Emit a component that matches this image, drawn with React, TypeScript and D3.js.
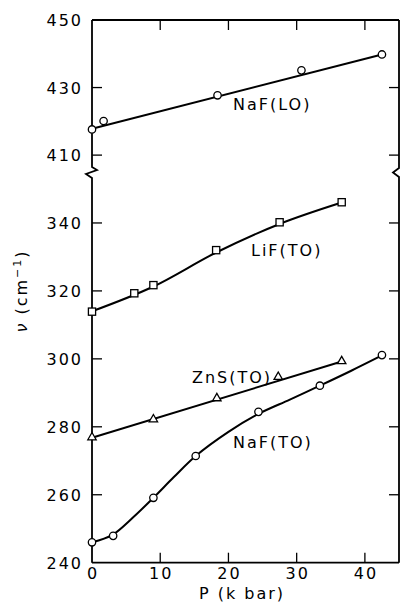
import React from "react";
import * as d3 from "d3";

// pressure (kbar) and frequency (cm^-1)
const nafLoP = [0, 1.7, 18.4, 30.7, 42.5];
const nafLoV = [417.6, 420.1, 427.7, 435.1, 439.8];
const nafLoFit = [[0, 417.8], [42.5, 439.8]];

const lifP = [0, 6.2, 9.0, 18.2, 27.5, 36.6];
const lifV = [313.9, 319.3, 321.7, 332.0, 340.2, 346.1];
const lifFit = [[0, 314], [9, 321.3], [18.2, 331.3], [27.5, 339.7], [36.6, 346]];

const znsP = [0, 9.0, 18.3, 27.3, 36.6];
const znsV = [277.0, 282.3, 288.5, 294.8, 299.4];
const znsFit = [[0, 276.8], [36.6, 299.2]];

const naftoP = [0, 3.1, 9.0, 15.2, 24.4, 33.4, 42.5];
const naftoV = [246.0, 247.9, 259.1, 271.4, 284.4, 292.1, 301.1];
const naftoFit = [
  [0, 246], [3, 248.2], [6, 253.3], [9, 259.1], [12, 265.2], [15.2, 271.4],
  [20, 278.5], [24.4, 283.8], [29, 288.0], [33.4, 292.1], [38, 296.5], [42.5, 301]
];

const xTicks = [0, 10, 20, 30, 40];
const upperTicks = [410, 430, 450];
const lowerTicks = [240, 260, 280, 300, 320, 340];

const W = 401;
const H = 603;
const left = 92;
const right = 399;
const top = 20;
const bottom = 562.7;
const breakY = 172;

const font = "'DejaVu Sans', sans-serif";

export default function App() {
  const x = d3.scaleLinear().domain([0, 45]).range([left, right]);
  const yUp = d3.scaleLinear().domain([405, 450]).range([breakY, top]);
  const yLo = d3.scaleLinear().domain([240, 355]).range([bottom, breakY]);
  const y = (v: number) => (v > 380 ? yUp(v) : yLo(v));

  const straight = d3.line<number[]>().x(d => x(d[0])).y(d => y(d[1]));
  const smooth = d3
    .line<number[]>()
    .x(d => x(d[0]))
    .y(d => y(d[1]))
    .curve(d3.curveCatmullRom.alpha(0.5));

  const tick = 10;
  const circle = (px: number[], vs: number[], key: string) =>
    px.map((p, i) => (
      <circle key={key + i} cx={x(p)} cy={y(vs[i])} r={3.7} fill="#fff" stroke="#000" strokeWidth={1.3} />
    ));

  const leftBreak = `M${left},${top} L${left},167 L${left + 5},170 L${left - 6},174 L${left},178 L${left},${bottom}`;
  const rightBreak = `M${right},${top} L${right},168 L${right - 6},172.5 L${right},177 L${right},${bottom}`;

  return (
    <svg width={W} height={H} style={{ position: "absolute", left: 0, top: 0, background: "#fff" }}>
      <g fill="none" stroke="#000" strokeWidth={1.8}>
        <path d={leftBreak} />
        <path d={rightBreak} />
        <line x1={left} x2={right} y1={top} y2={top} />
        <line x1={left} x2={right} y1={bottom} y2={bottom} />
      </g>

      <g stroke="#000" strokeWidth={1.3}>
        {xTicks.slice(1).map(t => (
          <g key={"xt" + t}>
            <line x1={x(t)} x2={x(t)} y1={bottom} y2={bottom - tick} />
            <line x1={x(t)} x2={x(t)} y1={top} y2={top + tick} />
          </g>
        ))}
        {upperTicks.slice(0, 2).map(t => (
          <g key={"ut" + t}>
            <line x1={left} x2={left + tick} y1={yUp(t)} y2={yUp(t)} />
            <line x1={right} x2={right - tick} y1={yUp(t)} y2={yUp(t)} />
          </g>
        ))}
        {lowerTicks.slice(1).map(t => (
          <g key={"lt" + t}>
            <line x1={left} x2={left + tick} y1={yLo(t)} y2={yLo(t)} />
            <line x1={right} x2={right - tick} y1={yLo(t)} y2={yLo(t)} />
          </g>
        ))}
      </g>

      <g fontFamily={font} fontSize={16} letterSpacing={2} fill="#000">
        {xTicks.map(t => (
          <text key={"xl" + t} x={x(t) + 1} y={579} textAnchor="middle">
            {t}
          </text>
        ))}
        {upperTicks.map(t => (
          <text key={"ul" + t} x={left - 9} y={yUp(t) + 6} textAnchor="end">
            {t}
          </text>
        ))}
        {lowerTicks.map(t => (
          <text key={"ll" + t} x={left - 9} y={yLo(t) + 6} textAnchor="end">
            {t}
          </text>
        ))}
        <text x={242} y={599} textAnchor="middle">P (k bar)</text>
        <text transform="translate(27,291) rotate(-90)" textAnchor="middle">
          <tspan fontStyle="italic">ν</tspan> (cm<tspan dy={-6} fontSize={11}>−1</tspan>
          <tspan dy={6}>)</tspan>
        </text>
        <text x={233} y={110}>NaF(LO)</text>
        <text x={251} y={256}>LiF(TO)</text>
        <text x={192} y={383}>ZnS(TO)</text>
        <text x={233} y={448}>NaF(TO)</text>
      </g>

      <g fill="none" stroke="#000" strokeWidth={2}>
        <path d={straight(nafLoFit) || ""} />
        <path d={smooth(lifFit) || ""} />
        <path d={straight(znsFit) || ""} />
        <path d={smooth(naftoFit) || ""} />
      </g>

      {circle(nafLoP, nafLoV, "lo")}
      {circle(naftoP, naftoV, "to")}
      {lifP.map((p, i) => (
        <rect key={"sq" + i} x={x(p) - 3.6} y={y(lifV[i]) - 3.6} width={7.2} height={7.2} fill="#fff" stroke="#000" strokeWidth={1.3} />
      ))}
      {znsP.map((p, i) => {
        const cx = x(p);
        const cy = y(znsV[i]);
        return (
          <path
            key={"tr" + i}
            d={`M${cx},${cy - 4.5} L${cx + 4.2},${cy + 2.8} L${cx - 4.2},${cy + 2.8} Z`}
            fill="#fff"
            stroke="#000"
            strokeWidth={1.3}
          />
        );
      })}
    </svg>
  );
}
